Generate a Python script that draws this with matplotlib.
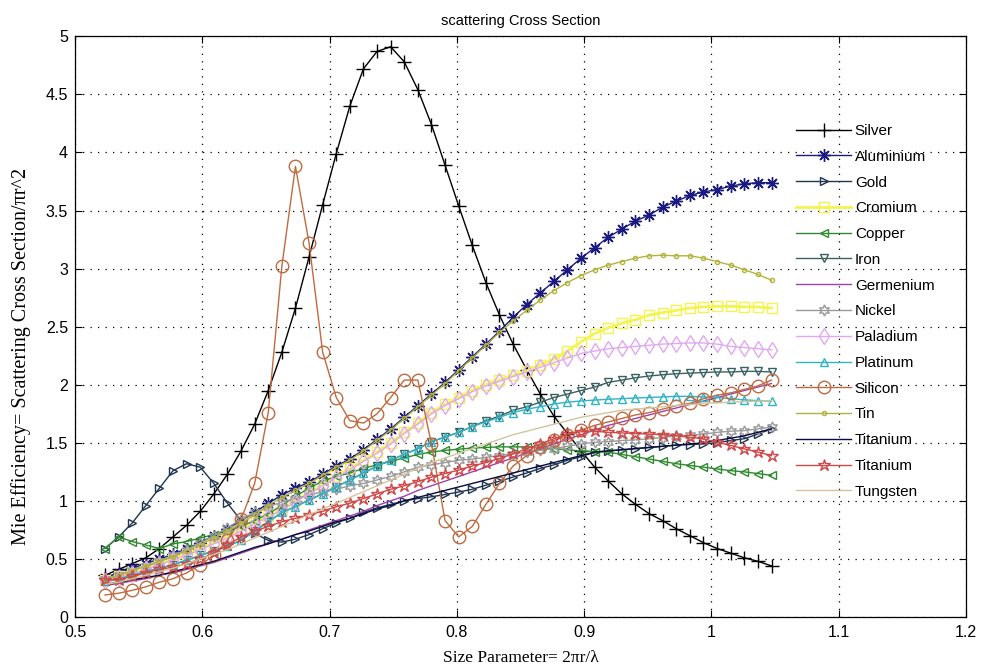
import numpy as np
import matplotlib.pyplot as plt

# size parameter samples (50 points from pi/6 to pi/3)
size_param = np.linspace(np.pi / 6, np.pi / 3, 50)

silver = [0.36, 0.41, 0.46, 0.51, 0.59, 0.69, 0.79, 0.91, 1.06, 1.23,
          1.43, 1.66, 1.95, 2.28, 2.66, 3.10, 3.55, 3.99, 4.40, 4.72,
          4.87, 4.91, 4.78, 4.54, 4.24, 3.89, 3.54, 3.20, 2.88, 2.60,
          2.35, 2.13, 1.92, 1.73, 1.58, 1.43, 1.29, 1.17, 1.06, 0.97,
          0.89, 0.83, 0.76, 0.70, 0.64, 0.59, 0.55, 0.51, 0.48, 0.44]
aluminium = [0.34, 0.38, 0.42, 0.46, 0.50, 0.54, 0.59, 0.64, 0.70, 0.76,
             0.83, 0.90, 0.98, 1.05, 1.11, 1.16, 1.23, 1.30, 1.36, 1.44,
             1.53, 1.62, 1.72, 1.82, 1.92, 2.02, 2.13, 2.24, 2.35, 2.46,
             2.58, 2.69, 2.79, 2.89, 2.99, 3.09, 3.18, 3.27, 3.34, 3.41,
             3.46, 3.53, 3.58, 3.63, 3.66, 3.68, 3.71, 3.73, 3.74, 3.74]
gold = [0.59, 0.69, 0.81, 0.96, 1.11, 1.26, 1.32, 1.29, 1.15, 0.98,
        0.83, 0.72, 0.66, 0.645, 0.67, 0.71, 0.76, 0.81, 0.85, 0.90,
        0.94, 0.97, 1.00, 1.02, 1.035, 1.055, 1.076, 1.10, 1.135, 1.17,
        1.205, 1.24, 1.28, 1.31, 1.35, 1.38, 1.42, 1.43, 1.44, 1.45,
        1.46, 1.47, 1.48, 1.485, 1.49, 1.50, 1.52, 1.535, 1.575, 1.62]
cromium = [0.32, 0.35, 0.38, 0.42, 0.46, 0.50, 0.54, 0.59, 0.64, 0.69,
           0.75, 0.81, 0.87, 0.93, 1.00, 1.07, 1.14, 1.21, 1.28, 1.35,
           1.42, 1.50, 1.59, 1.67, 1.76, 1.83, 1.89, 1.95, 2.00, 2.04,
           2.08, 2.12, 2.17, 2.22, 2.29, 2.37, 2.44, 2.49, 2.53, 2.56,
           2.60, 2.62, 2.64, 2.66, 2.67, 2.675, 2.675, 2.67, 2.67, 2.66]
copper = [0.59, 0.69, 0.65, 0.62, 0.59, 0.63, 0.65, 0.68, 0.71, 0.74,
          0.78, 0.83, 0.89, 0.96, 1.04, 1.11, 1.17, 1.21, 1.24, 1.28,
          1.31, 1.34, 1.37, 1.40, 1.42, 1.435, 1.445, 1.455, 1.46, 1.465,
          1.465, 1.465, 1.46, 1.45, 1.44, 1.43, 1.425, 1.42, 1.40, 1.38,
          1.36, 1.34, 1.32, 1.305, 1.29, 1.275, 1.26, 1.25, 1.235, 1.22]
iron = [0.31, 0.33, 0.36, 0.39, 0.42, 0.45, 0.49, 0.53, 0.57, 0.61,
        0.66, 0.74, 0.82, 0.90, 0.95, 1.01, 1.06, 1.12, 1.18, 1.24,
        1.30, 1.35, 1.40, 1.45, 1.51, 1.55, 1.59, 1.64, 1.69, 1.73,
        1.78, 1.81, 1.85, 1.89, 1.92, 1.95, 1.98, 2.02, 2.04, 2.06,
        2.075, 2.086, 2.095, 2.10, 2.105, 2.11, 2.11, 2.115, 2.115, 2.11]
germenium = [0.27, 0.29, 0.31, 0.33, 0.36, 0.38, 0.41, 0.44, 0.47, 0.51,
             0.55, 0.59, 0.63, 0.67, 0.71, 0.75, 0.79, 0.83, 0.87, 0.91,
             0.96, 1.00, 1.04, 1.09, 1.13, 1.17, 1.21, 1.25, 1.29, 1.33,
             1.37, 1.41, 1.45, 1.49, 1.53, 1.57, 1.61, 1.65, 1.68, 1.71,
             1.74, 1.77, 1.80, 1.83, 1.86, 1.89, 1.92, 1.95, 1.98, 2.01]
nickel = [0.33, 0.36, 0.40, 0.44, 0.48, 0.53, 0.58, 0.64, 0.70, 0.77,
          0.84, 0.90, 0.95, 0.99, 1.02, 1.05, 1.08, 1.10, 1.13, 1.15,
          1.18, 1.21, 1.25, 1.29, 1.31, 1.33, 1.35, 1.36, 1.375, 1.39,
          1.405, 1.42, 1.435, 1.45, 1.47, 1.49, 1.505, 1.51, 1.52, 1.525,
          1.535, 1.545, 1.56, 1.565, 1.575, 1.59, 1.60, 1.605, 1.62, 1.635]
paladium = [0.31, 0.34, 0.37, 0.41, 0.45, 0.49, 0.53, 0.58, 0.63, 0.68,
            0.74, 0.80, 0.86, 0.92, 0.99, 1.06, 1.13, 1.20, 1.27, 1.34,
            1.41, 1.49, 1.58, 1.66, 1.75, 1.82, 1.88, 1.94, 1.99, 2.03,
            2.07, 2.11, 2.15, 2.19, 2.23, 2.27, 2.29, 2.31, 2.32, 2.33,
            2.34, 2.35, 2.355, 2.36, 2.36, 2.35, 2.33, 2.32, 2.31, 2.30]
platinum = [0.31, 0.33, 0.36, 0.39, 0.42, 0.45, 0.49, 0.53, 0.57, 0.61,
            0.66, 0.74, 0.82, 0.90, 0.95, 1.01, 1.06, 1.12, 1.18, 1.24,
            1.30, 1.35, 1.40, 1.45, 1.51, 1.55, 1.59, 1.64, 1.68, 1.72,
            1.76, 1.79, 1.81, 1.834, 1.85, 1.86, 1.868, 1.875, 1.88, 1.886,
            1.89, 1.895, 1.90, 1.90, 1.895, 1.89, 1.88, 1.87, 1.863, 1.857]
silicon = [0.19, 0.205, 0.23, 0.26, 0.30, 0.33, 0.38, 0.45, 0.53, 0.66,
           0.84, 1.15, 1.76, 3.02, 3.88, 3.22, 2.28, 1.89, 1.69, 1.67,
           1.75, 1.89, 2.04, 2.04, 1.49, 0.83, 0.69, 0.78, 0.97, 1.15,
           1.30, 1.39, 1.46, 1.52, 1.57, 1.61, 1.65, 1.68, 1.71, 1.74,
           1.76, 1.79, 1.82, 1.84, 1.88, 1.91, 1.93, 1.96, 1.99, 2.04]
tin = [0.32, 0.36, 0.40, 0.44, 0.48, 0.52, 0.57, 0.62, 0.68, 0.74,
       0.81, 0.88, 0.96, 1.03, 1.09, 1.15, 1.22, 1.29, 1.35, 1.43,
       1.52, 1.61, 1.71, 1.81, 1.91, 2.01, 2.12, 2.23, 2.34, 2.45,
       2.55, 2.64, 2.73, 2.81, 2.88, 2.94, 2.99, 3.03, 3.06, 3.09,
       3.11, 3.115, 3.11, 3.11, 3.09, 3.06, 3.03, 2.99, 2.95, 2.90]
titanium_a = [0.28, 0.30, 0.32, 0.34, 0.36, 0.39, 0.42, 0.45, 0.48, 0.52,
              0.56, 0.60, 0.63, 0.67, 0.71, 0.74, 0.78, 0.82, 0.85, 0.89,
              0.93, 0.96, 1.00, 1.03, 1.06, 1.09, 1.12, 1.15, 1.18, 1.21,
              1.24, 1.27, 1.30, 1.33, 1.36, 1.39, 1.42, 1.43, 1.44, 1.45,
              1.46, 1.47, 1.48, 1.49, 1.50, 1.52, 1.54, 1.56, 1.59, 1.62]
titanium_b = [0.32, 0.32, 0.35, 0.38, 0.41, 0.43, 0.46, 0.50, 0.55, 0.62,
              0.69, 0.74, 0.78, 0.82, 0.85, 0.88, 0.91, 0.95, 0.98, 1.02,
              1.06, 1.10, 1.13, 1.165, 1.205, 1.235, 1.265, 1.30, 1.33, 1.365,
              1.405, 1.45, 1.49, 1.535, 1.575, 1.595, 1.60, 1.59, 1.585, 1.58,
              1.575, 1.57, 1.56, 1.548, 1.534, 1.505, 1.477, 1.448, 1.42, 1.39]
tungsten = [0.28, 0.30, 0.33, 0.36, 0.39, 0.42, 0.46, 0.50, 0.54, 0.58,
            0.63, 0.68, 0.73, 0.78, 0.83, 0.88, 0.93, 0.98, 1.03, 1.08,
            1.13, 1.18, 1.23, 1.28, 1.33, 1.37, 1.41, 1.45, 1.49, 1.53,
            1.57, 1.60, 1.63, 1.66, 1.69, 1.72, 1.74, 1.76, 1.78, 1.79,
            1.80, 1.81, 1.82, 1.83, 1.84, 1.845, 1.85, 1.855, 1.86, 1.86]

asterisk = (8, 2, 0)      # 8-spoke asterisk
hexagram = (6, 1, 0)      # six-pointed star

# name, values, colour, marker, marker size
series = [
    ("Silver", silver, "#000000", "+", 10),
    ("Aluminium", aluminium, "#1a1a80", asterisk, 9),
    ("Gold", gold, "#1f3550", ">", 6),
    ("Cromium", cromium, "#f4f450", "s", 7),
    ("Copper", copper, "#2f8a2f", "<", 6),
    ("Iron", iron, "#3a6262", "v", 6),
    ("Germenium", germenium, "#a040b0", "None", 6),
    ("Nickel", nickel, "#9a9a9a", hexagram, 8),
    ("Paladium", paladium, "#e0a8f0", "d", 8),
    ("Platinum", platinum, "#30b4c4", "^", 6),
    ("Silicon", silicon, "#c06a40", "o", 9),
    ("Tin", tin, "#b4b43c", ".", 6),
    ("Titanium", titanium_a, "#0a0a40", "None", 6),
    ("Titanium", titanium_b, "#d04848", "*", 9),
    ("Tungsten", tungsten, "#d4c49c", "None", 6),
]

plt.rcParams["font.family"] = ["Liberation Sans", "DejaVu Sans"]

fig = plt.figure(figsize=(9.83, 6.72), dpi=100)
ax = fig.add_axes([0.0763, 0.0818, 0.9064, 0.8642])

for name, vals, col, mk, ms in series:
    lw = 2.0 if name == "Cromium" else 1.0
    ax.plot(size_param, vals, color=col, marker=mk, markersize=ms,
            markerfacecolor="none", markeredgecolor=col, markeredgewidth=1.0,
            linewidth=lw, label=name)

ax.set_xlim(0.5, 1.2)
ax.set_ylim(0, 5)
ax.set_xticks(np.arange(0.5, 1.21, 0.1))
ax.set_yticks(np.arange(0, 5.01, 0.5))
ax.set_xticklabels(["0.5", "0.6", "0.7", "0.8", "0.9", "1", "1.1", "1.2"])
ax.set_yticklabels(["0", "0.5", "1", "1.5", "2", "2.5", "3", "3.5", "4", "4.5", "5"])
ax.tick_params(direction="in", length=5, top=True, right=True, labelsize=11.5, width=0.8)
ax.tick_params(axis="x", pad=6)
ax.tick_params(axis="y", pad=5)
ax.grid(True, linestyle=(0, (1, 5)), color="black", linewidth=0.9)
for s in ax.spines.values():
    s.set_linewidth(0.9)

ax.set_title("scattering Cross Section", fontsize=10.5, pad=8)
ax.set_xlabel("Size Parameter= 2\u03c0r/\u03bb", family=["Liberation Serif", "DejaVu Serif"], fontsize=12.5, labelpad=7)
ax.set_ylabel("Mie Efficiency= Scattering Cross Section/\u03c0r^2", family=["Liberation Serif", "DejaVu Serif"], fontsize=14.5)
ax.yaxis.set_label_coords(-0.049, 0.449)

ax.legend(loc="upper left", bbox_to_anchor=(796 / 983, 1 - 124 / 672), bbox_transform=fig.transFigure,
          frameon=False, fontsize=11, numpoints=1, handlelength=3.6, handletextpad=0.25,
          labelspacing=0.77, borderpad=0, borderaxespad=0)

fig.savefig("out.png", dpi=100)
